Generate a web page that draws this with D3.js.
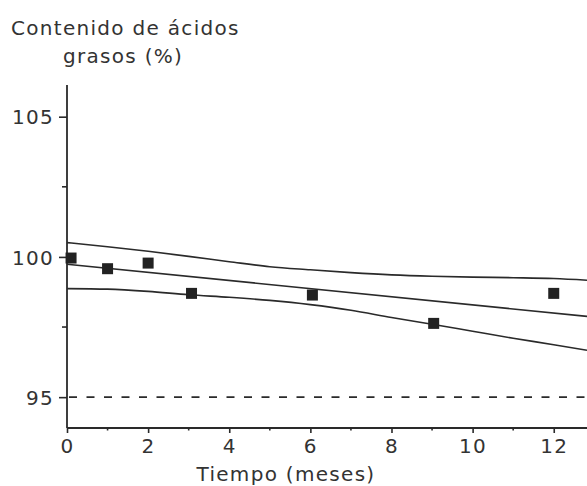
<!DOCTYPE html>
<html><head><meta charset="utf-8">
<script src="https://cdn.jsdelivr.net/npm/d3@7"></script>
<style>
html,body{margin:0;padding:0;background:#fff;}
svg{display:block;}
text{font-family:"DejaVu Sans",Verdana,sans-serif;fill:#333;}
</style></head><body>
<script>
// ---- data ----
const months = [0.1, 1, 2, 3.07, 6.05, 9.04, 12];
const content = [99.96, 99.58, 99.78, 98.70, 98.64, 97.63, 98.70];

const regMonths = [0, 12.82];
const regValues = [99.74, 97.88];

const bandMonths = [0, 1, 2, 3, 4, 5, 6, 7, 8, 9, 10, 11, 12, 12.82];
const upperBand = [100.51, 100.36, 100.2, 100.02, 99.83, 99.65, 99.54, 99.44, 99.36, 99.31, 99.28, 99.26, 99.23, 99.17];
const lowerBand = [98.87, 98.85, 98.77, 98.65, 98.56, 98.45, 98.3, 98.1, 97.84, 97.6, 97.35, 97.1, 96.87, 96.67];

const limitValue = 95;
const xTicks = [0, 2, 4, 6, 8, 10, 12];
const xMinorTicks = [1, 3, 5, 7, 9, 11];
const yTicks = [95, 100, 105];
const yMinorTicks = [97.5, 102.5];
const yTitle = ["Contenido de ácidos", "grasos (%)"];
const xTitle = "Tiempo (meses)";

// ---- layout ----
const W = 587, H = 486;
const svg = d3.select("body").append("svg").attr("width", W).attr("height", H);
const x = d3.scaleLinear().domain([0, 12.82]).range([67, 587]);
const y = d3.scaleLinear().domain([93.9, 106.13]).range([428, 85]);

const ink = "#2a2a2a";
const fontSize = 20;
const ls = "1.3px";

// dashed limit line
svg.append("line")
  .attr("x1", x(0)).attr("x2", x.range()[1])
  .attr("y1", y(limitValue)).attr("y2", y(limitValue))
  .attr("stroke", ink).attr("stroke-width", 1.6)
  .attr("stroke-dasharray", "8,9.5").attr("stroke-dashoffset", -2);

// axes
const xAxisG = svg.append("g").attr("transform", `translate(0,${y.range()[0]})`);
xAxisG.call(d3.axisBottom(x).tickValues(xTicks).tickSize(5).tickPadding(6).tickFormat(d3.format("d")));
xAxisG.append("g").selectAll("line").data(xMinorTicks).join("line")
  .attr("x1", d => x(d)).attr("x2", d => x(d)).attr("y1", 0).attr("y2", 2.5)
  .attr("stroke", ink).attr("stroke-width", 1.6);

const yAxisG = svg.append("g").attr("transform", `translate(${x(0)},0)`);
yAxisG.call(d3.axisLeft(y).tickValues(yTicks).tickSize(8).tickPadding(5).tickFormat(d3.format("d")));
yAxisG.append("g").selectAll("line").data(yMinorTicks).join("line")
  .attr("x1", -5).attr("x2", 0).attr("y1", d => y(d)).attr("y2", d => y(d))
  .attr("stroke", ink).attr("stroke-width", 1.6);

[xAxisG, yAxisG].forEach(g => {
  g.select(".domain").attr("stroke", ink).attr("stroke-width", 1.8)
    .attr("d", g === xAxisG ? `M${x(0)},0H${W}` : `M0,${y.range()[1]}V${y.range()[0]}`);
  g.selectAll(".tick line").attr("stroke", ink).attr("stroke-width", 1.6);
  g.selectAll(".tick text").attr("font-size", fontSize).attr("letter-spacing", ls)
    .attr("font-family", "DejaVu Sans").attr("fill", "#333");
});
yAxisG.selectAll(".tick text").attr("dy", "0.36em");

// band and regression lines
const line = d3.line().x(d => x(d[0])).y(d => y(d[1])).curve(d3.curveMonotoneX);
[upperBand, lowerBand].forEach(arr => {
  svg.append("path").datum(bandMonths.map((m, i) => [m, arr[i]]))
    .attr("d", line).attr("fill", "none").attr("stroke", ink).attr("stroke-width", 1.6);
});
svg.append("path").datum(regMonths.map((m, i) => [m, regValues[i]]))
  .attr("d", d3.line().x(d => x(d[0])).y(d => y(d[1])))
  .attr("fill", "none").attr("stroke", ink).attr("stroke-width", 1.6);

// data squares
const s = 11;
svg.append("g").selectAll("rect").data(months.map((m, i) => [m, content[i]])).join("rect")
  .attr("x", d => x(d[0]) - s / 2).attr("y", d => y(d[1]) - s / 2)
  .attr("width", s).attr("height", s).attr("fill", "#222");

// titles
svg.append("text").attr("x", 11).attr("y", 35).attr("font-size", fontSize)
  .attr("letter-spacing", ls).text(yTitle[0]);
svg.append("text").attr("x", 63).attr("y", 63).attr("font-size", fontSize)
  .attr("letter-spacing", ls).text(yTitle[1]);
svg.append("text").attr("x", 286).attr("y", 481).attr("text-anchor", "middle")
  .attr("font-size", fontSize).attr("letter-spacing", ls).text(xTitle);
</script>
</body></html>
